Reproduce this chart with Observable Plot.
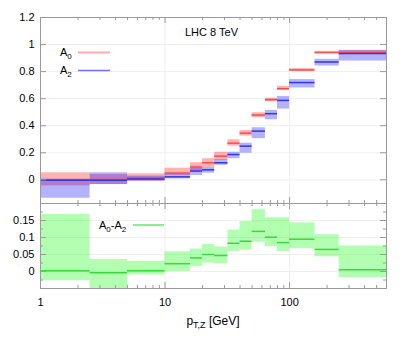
<!DOCTYPE html>
<html><head><meta charset="utf-8">
<script src="https://cdn.jsdelivr.net/npm/d3@7"></script>
<script src="https://cdn.jsdelivr.net/npm/@observablehq/plot@0.6"></script>
<style>
body{margin:0;background:#fff;}
#chart{position:relative;width:407px;height:339px;font-family:"Liberation Sans",Arial,sans-serif;}
#chart svg{position:absolute;left:0;overflow:visible;}
</style></head><body><div id="chart"></div>
<script>
// ---- data ----
const edges = [1, 2.5, 5, 10, 16, 20, 25, 32, 40, 50, 64, 80, 100, 160, 250, 600];
const a0    = [0.0,   0.002,  0.015, 0.05,  0.095, 0.126, 0.175, 0.271, 0.345, 0.479, 0.593, 0.674, 0.812, 0.941, 0.94];
const a0Lo  = [-0.045,-0.035, -0.01, 0.032, 0.064, 0.093, 0.143, 0.249, 0.323, 0.459, 0.578, 0.661, 0.802, 0.933, 0.926];
const a0Hi  = [0.052, 0.039,  0.044, 0.086, 0.126, 0.156, 0.204, 0.296, 0.365, 0.496, 0.604, 0.691, 0.822, 0.95,  0.958];
const a2    = [-0.003,-0.004, 0.007, 0.022, 0.065, 0.074, 0.126, 0.187, 0.249, 0.36,  0.489, 0.587, 0.719, 0.871, 0.933];
const a2Lo  = [-0.136,-0.035, -0.01, 0.007, 0.032, 0.049, 0.108, 0.156, 0.197, 0.304, 0.444, 0.523, 0.679, 0.841, 0.878];
const a2Hi  = [0.005, 0.052,  0.027, 0.044, 0.089, 0.093, 0.148, 0.204, 0.271, 0.385, 0.513, 0.617, 0.741, 0.891, 0.955];
const dif   = [0.002, -0.004, 0.002, 0.023, 0.04,  0.05,  0.047, 0.083, 0.089, 0.118, 0.101, 0.085, 0.095, 0.065, 0.005];
const difLo = [-0.027,-0.07,  -0.01, 0.0,   0.015, 0.025, 0.022, 0.059, 0.063, 0.086, 0.073, 0.058, 0.067, 0.043, -0.018];
const difHi = [0.168, 0.035,  0.03,  0.058, 0.066, 0.08,  0.072, 0.122, 0.147, 0.182, 0.158, 0.158, 0.143, 0.108, 0.075];

const xTicks = [1, 10, 100];
const xMinor = [2,3,4,5,6,7,8,9,20,30,40,50,60,70,80,90,200,300,400,500];
const yTicksTop = [0, 0.2, 0.4, 0.6, 0.8, 1, 1.2];
const yTicksBot = [0, 0.05, 0.1, 0.15];
const yMinorBot = [-0.025, 0.025, 0.075, 0.125, 0.175];
const title = "LHC 8 TeV";

const bins = a0.map((v, i) => ({
  x1: edges[i], x2: edges[i+1],
  a0: v, a0Lo: a0Lo[i], a0Hi: a0Hi[i],
  a2: a2[i], a2Lo: a2Lo[i], a2Hi: a2Hi[i],
  d: dif[i], dLo: difLo[i], dHi: difHi[i]
}));

// ---- layout ----
const W = 407, mL = 40, mR = 21;
const fw = W - mL - mR;
const frameColor = "#9a9a9a";
const gridColor = "#efefef";
const fontStyle = {fontSize: "11px", fontFamily: "'Liberation Sans', Arial, sans-serif", color: "#000", background: "transparent", overflow: "visible"};
const xScale = {type: "log", domain: [1, 600], axis: null};

function ticks(fh, yTicks, yMinor) {
  const m = [
    Plot.tickX(xTicks, {x: d => d, insetTop: fh - 6, stroke: frameColor}),
    Plot.tickX(xTicks, {x: d => d, insetBottom: fh - 6, stroke: frameColor}),
    Plot.tickX(xMinor, {x: d => d, insetTop: fh - 3, stroke: frameColor}),
    Plot.tickX(xMinor, {x: d => d, insetBottom: fh - 3, stroke: frameColor}),
    Plot.tickY(yTicks, {y: d => d, insetRight: fw - 6, stroke: frameColor}),
    Plot.tickY(yTicks, {y: d => d, insetLeft: fw - 6, stroke: frameColor})
  ];
  if (yMinor) {
    m.push(Plot.tickY(yMinor, {y: d => d, insetRight: fw - 3, stroke: frameColor}));
    m.push(Plot.tickY(yMinor, {y: d => d, insetLeft: fw - 3, stroke: frameColor}));
  }
  return m;
}

// top panel
const topH = 205, topMT = 17, topMB = 2;
const topFH = topH - topMT - topMB;
const topPlot = Plot.plot({
  width: W, height: topH, marginTop: topMT, marginBottom: topMB, marginLeft: mL, marginRight: mR,
  style: fontStyle,
  x: xScale,
  y: {domain: [-0.175, 1.2], axis: null},
  marks: [
    Plot.ruleX(xTicks.slice(1), {x: d => d, stroke: gridColor}),
    Plot.ruleY(yTicksTop, {y: d => d, stroke: gridColor}),
    Plot.rect(bins, {x1: "x1", x2: "x2", y1: "a0Lo", y2: "a0Hi", fill: "#ff0000", fillOpacity: 0.3}),
    Plot.rect(bins, {x1: "x1", x2: "x2", y1: "a2Lo", y2: "a2Hi", fill: "#0000ff", fillOpacity: 0.3}),
    Plot.ruleY(bins, {x1: "x1", x2: "x2", y: "a0", stroke: "#ff4a4a", strokeWidth: 1.5}),
    Plot.ruleY(bins, {x1: "x1", x2: "x2", y: "a2", stroke: "#3535d8", strokeWidth: 1.5}),
    Plot.frame({stroke: frameColor}),
    ...ticks(topFH, yTicksTop),
    Plot.axisY(yTicksTop, {tickSize: 0, tickPadding: 6, tickFormat: d => String(d), fontSize: 11}),
    Plot.text([title], {frameAnchor: "top", dy: 11, dx: -2, text: d => d, fontSize: 11, fill: "#000"})
  ]
});

// bottom panel
const botTop = 200, botH = 139, botMT = 3, botMB = 51;
const botFH = botH - botMT - botMB;
const botPlot = Plot.plot({
  width: W, height: botH, marginTop: botMT, marginBottom: botMB, marginLeft: mL, marginRight: mR,
  style: fontStyle,
  x: xScale,
  y: {domain: [-0.05, 0.2], axis: null},
  marks: [
    Plot.ruleX(xTicks.slice(1), {x: d => d, stroke: gridColor}),
    Plot.ruleY(yTicksBot, {y: d => d, stroke: gridColor}),
    Plot.rect(bins, {x1: "x1", x2: "x2", y1: "dLo", y2: "dHi", fill: "#00ff00", fillOpacity: 0.3, clip: true}),
    Plot.ruleY(bins, {x1: "x1", x2: "x2", y: "d", stroke: "#3ad83a", strokeWidth: 1.5, clip: true}),
    Plot.frame({stroke: frameColor}),
    ...ticks(botFH, yTicksBot, yMinorBot),
    Plot.axisY(yTicksBot, {tickSize: 0, tickPadding: 6, tickFormat: d => String(d), fontSize: 11}),
    Plot.axisX(xTicks, {tickSize: 0, tickPadding: 10, tickFormat: d => String(d), fontSize: 11, label: null})
  ]
});

const chart = document.getElementById("chart");
topPlot.style.top = "0px";
botPlot.style.top = botTop + "px";
chart.appendChild(topPlot);
chart.appendChild(botPlot);

// legends & axis label as real SVG text with subscripts
function subText(svg, x, y, parts, size, anchor) {
  const t = d3.select(svg).append("text")
    .attr("x", x).attr("y", y).attr("font-size", size).attr("fill", "#000")
    .attr("font-family", "'Liberation Sans', Arial, sans-serif")
    .attr("text-anchor", anchor || "start");
  let shift = 0;
  parts.forEach(([s, sub]) => {
    const target = sub ? 3 : 0;
    const ts = t.append("tspan").attr("dy", target - shift).text(s);
    if (sub) ts.attr("font-size", size - 3);
    shift = target;
  });
  return t;
}
const tsel = d3.select(topPlot);
subText(topPlot, 60, 56, [["A"], ["0", true]], 11);
tsel.append("line").attr("x1", 78).attr("x2", 110).attr("y1", 52.5).attr("y2", 52.5)
  .attr("stroke", "#ffaaaa").attr("stroke-width", 2);
subText(topPlot, 60, 74, [["A"], ["2", true]], 11);
tsel.append("line").attr("x1", 78).attr("x2", 110).attr("y1", 70.5).attr("y2", 70.5)
  .attr("stroke", "#7070ff").attr("stroke-width", 1.5);

const bsel = d3.select(botPlot);
subText(botPlot, 99, 29, [["A"], ["0", true], ["-A"], ["2", true]], 11);
bsel.append("line").attr("x1", 133).attr("x2", 164).attr("y1", 25).attr("y2", 25)
  .attr("stroke", "#88ee88").attr("stroke-width", 2);

subText(botPlot, 213, 125, [["p"], ["T,Z", true], [" [GeV]"]], 12, "middle");
</script>
</body></html>
